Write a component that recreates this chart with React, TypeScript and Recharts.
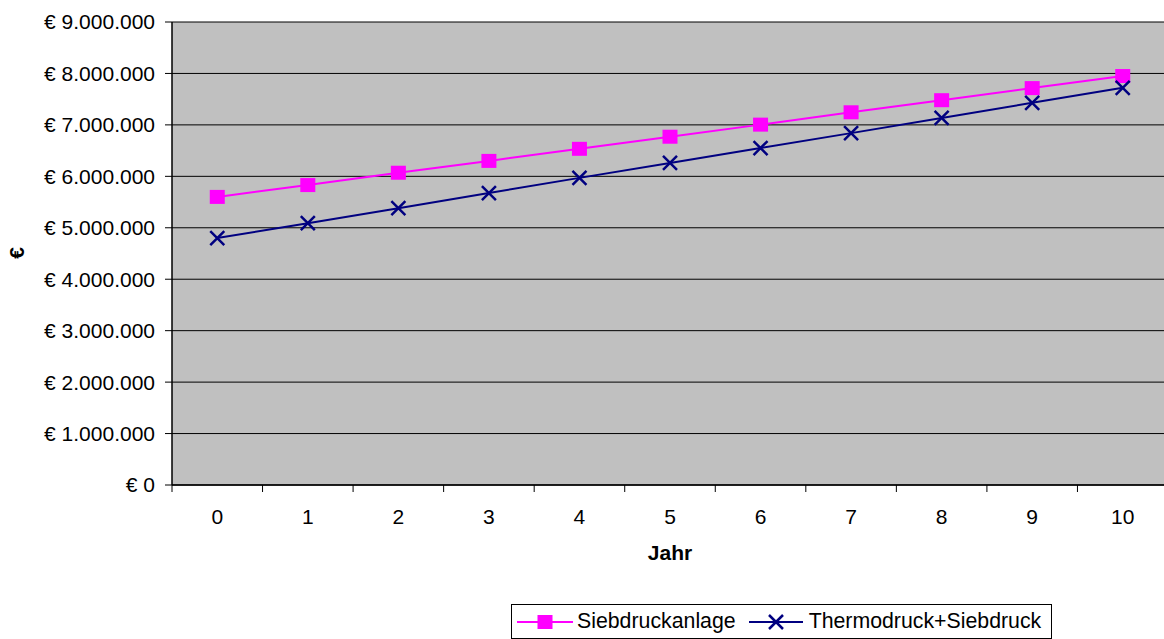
import React from "react";
import {
  LineChart, Line, XAxis, YAxis, CartesianGrid, Legend, Label,
} from "recharts";

const years = [0, 1, 2, 3, 4, 5, 6, 7, 8, 9, 10];
const siebdruck = [5600000, 5830000, 6070000, 6300000, 6535000, 6770000, 7005000, 7245000, 7480000, 7715000, 7950000];
const thermo = [4800000, 5090000, 5380000, 5675000, 5970000, 6260000, 6550000, 6840000, 7135000, 7430000, 7720000];
const yTicks = [0, 1000000, 2000000, 3000000, 4000000, 5000000, 6000000, 7000000, 8000000, 9000000];

const PINK = "#ff00ff";
const NAVY = "#000080";
const FONT = "'Liberation Sans', Arial, sans-serif";

const data = years.map((y, i) => ({ year: y, sieb: siebdruck[i], thermo: thermo[i] }));
// label ticks on the categories, tick marks between them
const xTicks = [...years.flatMap((y) => [y - 0.5, y]), years[years.length - 1] + 0.5];

function euro(v: number) {
  const s = String(Math.round(v)).replace(/\B(?=(\d{3})+(?!\d))/g, ".");
  return `€ ${s}`;
}

function XTick(props: any) {
  const { x, y, payload } = props;
  const v = payload.value as number;
  if (!Number.isInteger(v)) {
    return <line x1={x} x2={x} y1={y - 7} y2={y} stroke="#000" strokeWidth={1} />;
  }
  return (
    <text x={x} y={y + 32} textAnchor="middle" fontSize={21} fill="#000" fontFamily={FONT}>
      {v}
    </text>
  );
}

function SquareDot(props: any) {
  const { cx, cy } = props;
  if (cx == null || cy == null) return null;
  return <rect x={cx - 7.5} y={cy - 7} width={15} height={14} fill={PINK} />;
}

function CrossDot(props: any) {
  const { cx, cy } = props;
  if (cx == null || cy == null) return null;
  return (
    <path d={`M${cx - 7},${cy - 7}L${cx + 7},${cy + 7}M${cx - 7},${cy + 7}L${cx + 7},${cy - 7}`}
      stroke={NAVY} strokeWidth={2.5} fill="none" />
  );
}

function LegendBox() {
  return (
    <div style={{
      display: "flex", alignItems: "center", border: "1px solid #000", background: "#fff",
      fontFamily: FONT, fontSize: 21.3, color: "#000", height: 33, padding: "0 10px 0 5px", whiteSpace: "nowrap",
    }}>
      <svg width={56} height={20} style={{ marginRight: 4 }}>
        <line x1={0} x2={56} y1={10} y2={10} stroke={PINK} strokeWidth={2} />
        <rect x={20.5} y={3} width={15} height={14} fill={PINK} />
      </svg>
      <span>Siebdruckanlage</span>
      <svg width={54} height={20} style={{ marginLeft: 13, marginRight: 6 }}>
        <line x1={0} x2={54} y1={10} y2={10} stroke={NAVY} strokeWidth={2} />
        <path d="M20,3L34,17M20,17L34,3" stroke={NAVY} strokeWidth={2.5} fill="none" />
      </svg>
      <span>Thermodruck+Siebdruck</span>
    </div>
  );
}

export default function App() {
  return (
    <div style={{ position: "absolute", left: 0, top: 0, width: 1164, height: 639, overflow: "hidden", background: "#fff" }}>
      <LineChart width={1168} height={639} data={data} margin={{ top: 22, right: 0, bottom: 74, left: 0 }}>
        <CartesianGrid fill="#c0c0c0" stroke="#000" vertical={false} />
        <XAxis
          dataKey="year" type="number" domain={[-0.5, 10.5]} ticks={xTicks} interval={0}
          height={80} tickSize={7} tickMargin={0} tickLine={false} tick={<XTick />}
          axisLine={{ stroke: "#000", strokeWidth: 1.5 }}
        >
          <Label value="Jahr" position="insideBottom" offset={5}
            style={{ fontFamily: FONT, fontSize: 21, fontWeight: "bold", fill: "#000" }} />
        </XAxis>
        <YAxis
          width={172} domain={[0, 9000000]} ticks={yTicks} interval={0} tickFormatter={euro}
          tickSize={7} tickMargin={10}
          tick={{ fontSize: 21, fill: "#000", fontFamily: FONT }}
          tickLine={{ stroke: "#000" }} axisLine={{ stroke: "#000", strokeWidth: 1.5 }}
        >
          <Label
            content={() => (
              <text x={24} y={253} transform="rotate(-90, 24, 253)" textAnchor="middle"
                fontFamily={FONT} fontSize={21} fontWeight="bold" fill="#000">€</text>
            )}
          />
        </YAxis>
        <Legend
          layout="vertical" align="center" verticalAlign="middle"
          wrapperStyle={{ left: 511, top: 604, width: "auto", height: "auto" }}
          content={() => <LegendBox />}
        />
        <Line dataKey="sieb" name="Siebdruckanlage" stroke={PINK} strokeWidth={2}
          dot={<SquareDot />} activeDot={false} isAnimationActive={false} />
        <Line dataKey="thermo" name="Thermodruck+Siebdruck" stroke={NAVY} strokeWidth={2}
          dot={<CrossDot />} activeDot={false} isAnimationActive={false} />
      </LineChart>
    </div>
  );
}
